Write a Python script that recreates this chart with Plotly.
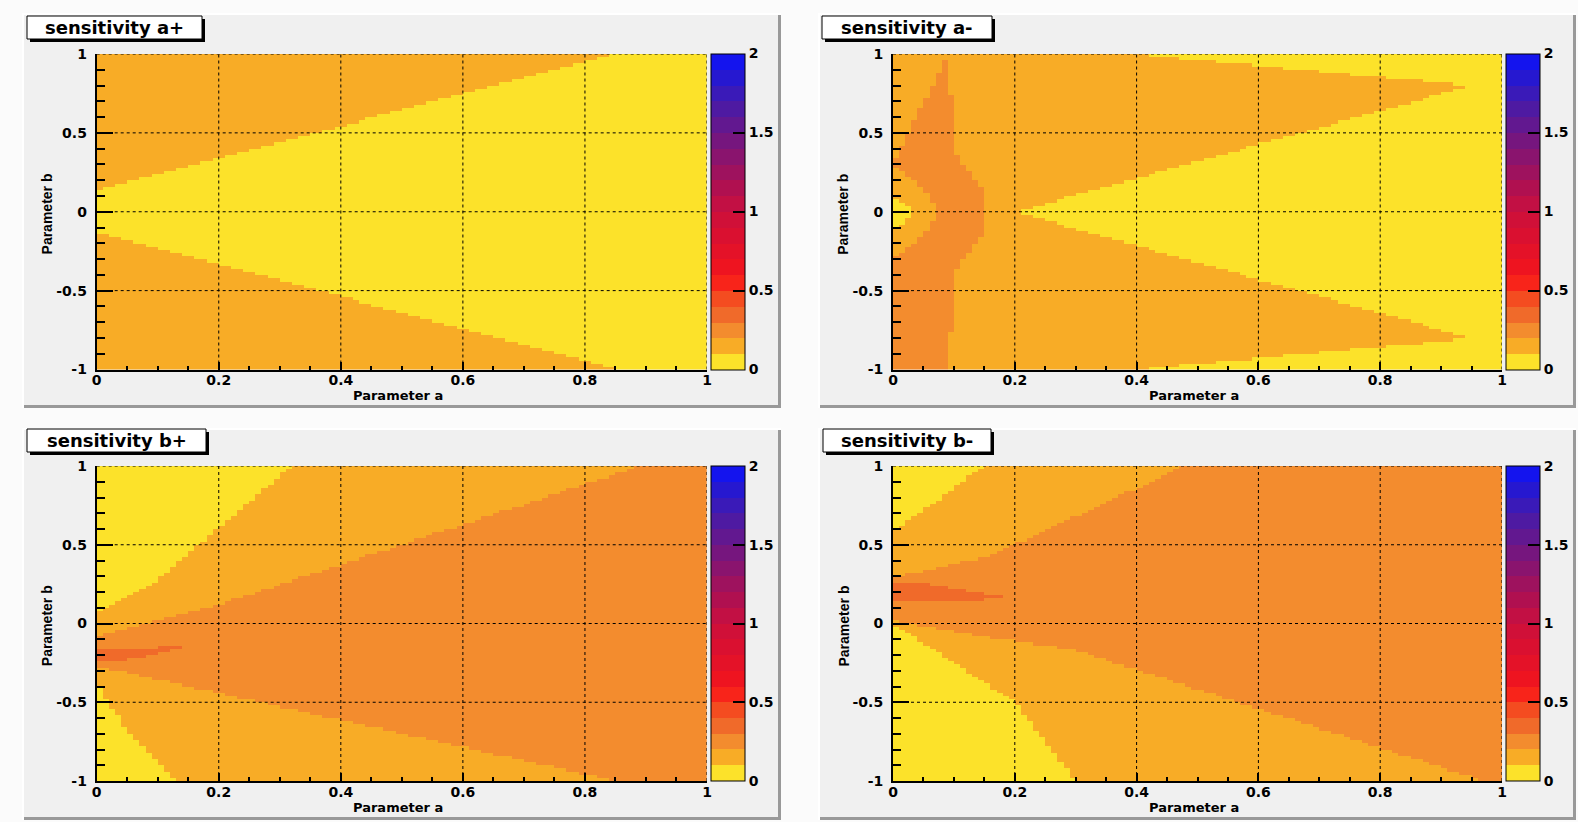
import numpy as np
import plotly.graph_objects as go

W, H = 1578, 822

# ---------------- data ----------------
# colour levels (ROOT-like palette, 20 steps from 0 to 2)
PALETTE = ["#FCE22A", "#F8AC26", "#F38C2E", "#F06A2A", "#F44C20", "#F8241A", "#EE1420",
           "#E41228", "#DA1030", "#D01038", "#C21044", "#B01050", "#9E125E", "#8A146E",
           "#76167E", "#621890", "#4E1AA2", "#3A1AB8", "#2618D0", "#1414EE"]
LEVEL_STEP = 0.1
NBINS_X, NBINS_Y = 100, 100
X_RANGE = [0.0, 1.0]
Y_RANGE = [-1.0, 1.0]

X_TICKS = [0, 0.2, 0.4, 0.6, 0.8, 1]
X_TICK_TEXT = ["0", "0.2", "0.4", "0.6", "0.8", "1"]
Y_TICKS = [-1, -0.5, 0, 0.5, 1]
Y_TICK_TEXT = ["-1", "-0.5", "0", "0.5", "1"]
Z_TICKS = [0, 0.5, 1, 1.5, 2]
Z_TICK_TEXT = ["0", "0.5", "1", "1.5", "2"]

TITLES = ["sensitivity a+", "sensitivity a-", "sensitivity b+", "sensitivity b-"]
X_TITLE = "Parameter a"
Y_TITLE = "Parameter b"

# region boundaries: (level index, polygon vertices (a, b))
A_PLUS_BASE = 0
A_PLUS_UPPER = [(0, 0.14), (0.85, 1), (0, 1)]
A_PLUS_LOWER = [(0, -0.13), (0.86, -1), (0, -1)]

A_MINUS_BASE = 1
A_MINUS_YELLOW = [(0.2, 0), (0.95, 0.8), (0.39, 1), (1, 1), (1, -1), (0.39, -1), (0.95, -0.8)]
A_MINUS_BAND = [(0.09, 1), (0.09, 0.75), (0.097, 0.75), (0.097, 0.4), (0.121, 0.27), (0.148, 0.14),
                (0.155, 0), (0.148, -0.14), (0.121, -0.27), (0.097, -0.4), (0.097, -0.75),
                (0.09, -0.75), (0.09, -1), (0, -1), (0, -0.3), (0.035, -0.2), (0.06, -0.1),
                (0.075, 0), (0.06, 0.1), (0.035, 0.2), (0, 0.3)]
A_MINUS_SPOT = [(0, 0.1), (0.035, 0.03), (0.035, -0.03), (0, -0.1)]

B_PLUS_BASE = 1
B_PLUS_YELLOW_TOP = [(0, 1), (0, 0.07), (0.1, 0.28), (0.32, 1)]
B_PLUS_YELLOW_BOT = [(0, -0.38), (0.02, -0.5), (0.05, -0.68), (0.13, -1), (0, -1)]
B_PLUS_DARK = [(0, -0.08), (0.2, 0.12), (0.5, 0.5), (0.89, 1), (1, 1), (1, -1), (0.85, -1), (0, -0.27)]
B_PLUS_RED = [(0, -0.15), (0.05, -0.16), (0.1, -0.15), (0.16, -0.13), (0.1, -0.19), (0.05, -0.23), (0, -0.25)]

B_MINUS_BASE = 1
B_MINUS_YELLOW_TOP = [(0, 1), (0, 0.58), (0.15, 1)]
B_MINUS_YELLOW_BOT = [(0, 0), (0.2, -0.5), (0.3, -1), (0, -1)]
B_MINUS_DARK = [(0, 0.29), (0.16, 0.43), (0.48, 1), (1, 1), (1, -1), (0.97, -1), (0.3, -0.17),
                (0.11, -0.06), (0, 0.02)]
B_MINUS_RED = [(0, 0.26), (0.06, 0.25), (0.12, 0.21), (0.19, 0.16), (0.12, 0.14), (0.06, 0.13), (0, 0.13)]

PANELS_DATA = [
    (A_PLUS_BASE, [(1, A_PLUS_UPPER), (1, A_PLUS_LOWER)]),
    (A_MINUS_BASE, [(0, A_MINUS_YELLOW), (2, A_MINUS_BAND), (0, A_MINUS_SPOT)]),
    (B_PLUS_BASE, [(0, B_PLUS_YELLOW_TOP), (0, B_PLUS_YELLOW_BOT), (2, B_PLUS_DARK), (3, B_PLUS_RED)]),
    (B_MINUS_BASE, [(0, B_MINUS_YELLOW_TOP), (0, B_MINUS_YELLOW_BOT), (2, B_MINUS_DARK), (3, B_MINUS_RED)]),
]

# ---------------- layout geometry (pixels) ----------------
PLOTS = [(96.7, 54, 707, 369.5), (893, 54, 1502, 369.5), (96.7, 466, 707, 781), (893, 466, 1502, 781)]
PADS = [(22, 13, 781, 408), (818, 13, 1576, 408), (22, 428, 781, 820), (818, 428, 1576, 820)]
BOXES = [(27, 16, 202, 39), (822, 16, 992, 39), (27, 429, 206, 452), (823, 429, 991, 452)]
CB_GAP, CB_W = 4, 34


def fx(px):
    return px / W


def fy(py):
    return 1 - py / H


def inside(px, py, poly):
    poly = np.asarray(poly, dtype=float)
    res = np.zeros(px.shape, dtype=bool)
    n = len(poly)
    j = n - 1
    with np.errstate(divide="ignore", invalid="ignore"):
        for i in range(n):
            xi, yi = poly[i]
            xj, yj = poly[j]
            cross = (yi > py) != (yj > py)
            xint = (xj - xi) * (py - yi) / (yj - yi) + xi
            res ^= cross & (px < xint)
            j = i
    return res


xc = X_RANGE[0] + (np.arange(NBINS_X) + 0.5) * (X_RANGE[1] - X_RANGE[0]) / NBINS_X
yc = Y_RANGE[0] + (np.arange(NBINS_Y) + 0.5) * (Y_RANGE[1] - Y_RANGE[0]) / NBINS_Y
XX, YY = np.meshgrid(xc, yc)

colorscale = []
n = len(PALETTE)
for i, c in enumerate(PALETTE):
    colorscale.append([i / n, c])
    colorscale.append([(i + 1) / n, c])

BOLD = dict(family="DejaVu Sans", weight="bold", color="black")

fig = go.Figure()
shapes = []
annotations = []
layout_axes = {}

for k in range(4):
    base, regions = PANELS_DATA[k]
    lev = np.full(XX.shape, base, dtype=float)
    for level, poly in regions:
        lev[inside(XX, YY, poly)] = level
    z = lev * LEVEL_STEP + LEVEL_STEP / 2

    x0, y0, x1, y1 = PLOTS[k]
    s = "" if k == 0 else str(k + 1)
    fig.add_trace(go.Heatmap(
        x=xc, y=yc, z=z, zmin=0, zmax=2, colorscale=colorscale,
        xaxis="x" + s, yaxis="y" + s, hoverinfo="skip",
        colorbar=dict(
            x=fx(x1 + CB_GAP), xanchor="left", y=fy(y1), yanchor="bottom",
            len=(y1 - y0) / H, lenmode="fraction", thickness=CB_W, thicknessmode="pixels",
            xpad=0, ypad=0, outlinewidth=1, outlinecolor="black",
            tickvals=Z_TICKS, ticktext=Z_TICK_TEXT, ticks="inside", ticklen=12,
            tickcolor="black", tickwidth=1.5, tickfont=dict(size=14, **BOLD),
        ),
    ))
    common = dict(showline=True, linecolor="black", linewidth=2, mirror=False,
                  showgrid=False, zeroline=False, ticks="inside", tickcolor="black", tickwidth=1.5,
                  tickfont=dict(size=14, **BOLD), fixedrange=True, automargin=False,
                  layer="above traces")
    layout_axes["xaxis" + s] = dict(
        domain=[fx(x0), fx(x1)], range=X_RANGE, anchor="y" + s,
        tickvals=X_TICKS, ticktext=X_TICK_TEXT, ticklen=8,
        minor=dict(dtick=0.05, tick0=0, ticks="inside", ticklen=4, tickcolor="black", showgrid=False),
        ticklabelstandoff=-3, **common)
    layout_axes["yaxis" + s] = dict(
        domain=[fy(y1), fy(y0)], range=Y_RANGE, anchor="x" + s,
        tickvals=Y_TICKS, ticktext=Y_TICK_TEXT, ticklen=16,
        minor=dict(dtick=0.1, tick0=0, ticks="inside", ticklen=8, tickcolor="black", showgrid=False),
        ticklabelstandoff=5, **common)

    # dotted grid drawn above the histogram (as in ROOT)
    for gx in X_TICKS[1:]:
        shapes.append(dict(type="line", xref="x" + s, yref="y" + s + " domain",
                           x0=gx, x1=gx, y0=0, y1=1, layer="above",
                           line=dict(color="black", width=1, dash="dot")))
    for gy in Y_TICKS[1:]:
        shapes.append(dict(type="line", xref="x" + s + " domain", yref="y" + s,
                           x0=0, x1=1, y0=gy, y1=gy, layer="above",
                           line=dict(color="black", width=1, dash="dot")))

    # pad background with bevel
    px0, py0, px1, py1 = PADS[k]
    shapes.append(dict(type="rect", xref="paper", yref="paper", layer="below",
                       x0=fx(px0), x1=fx(px1), y0=fy(py1), y1=fy(py0),
                       fillcolor="#F0F0F0", line=dict(width=0)))
    shapes.append(dict(type="line", xref="paper", yref="paper", layer="below",
                       x0=fx(px0), x1=fx(px1), y0=fy(py0 + 1), y1=fy(py0 + 1),
                       line=dict(color="#FFFFFF", width=2)))
    shapes.append(dict(type="line", xref="paper", yref="paper", layer="below",
                       x0=fx(px0 + 1), x1=fx(px0 + 1), y0=fy(py0), y1=fy(py1),
                       line=dict(color="#FFFFFF", width=2)))
    shapes.append(dict(type="line", xref="paper", yref="paper", layer="below",
                       x0=fx(px1 - 1.5), x1=fx(px1 - 1.5), y0=fy(py0 + 2), y1=fy(py1),
                       line=dict(color="#999999", width=3)))
    shapes.append(dict(type="line", xref="paper", yref="paper", layer="below",
                       x0=fx(px0 + 2), x1=fx(px1), y0=fy(py1 - 1.5), y1=fy(py1 - 1.5),
                       line=dict(color="#999999", width=3)))

    # title box with shadow
    bx0, by0, bx1, by1 = BOXES[k]
    shapes.append(dict(type="rect", xref="paper", yref="paper",
                       x0=fx(bx0 + 3), x1=fx(bx1 + 3), y0=fy(by1 + 3), y1=fy(by0 + 3),
                       fillcolor="black", line=dict(width=0)))
    shapes.append(dict(type="rect", xref="paper", yref="paper",
                       x0=fx(bx0), x1=fx(bx1), y0=fy(by1), y1=fy(by0),
                       fillcolor="white", line=dict(color="black", width=1)))
    annotations.append(dict(text=TITLES[k], xref="paper", yref="paper",
                            x=fx((bx0 + bx1) / 2), y=fy((by0 + by1) / 2),
                            xanchor="center", yanchor="middle", showarrow=False,
                            font=dict(size=18, **BOLD)))

    # axis titles
    annotations.append(dict(text=X_TITLE, xref="paper", yref="paper",
                            x=fx((x0 + x1) / 2 - 4), y=fy(y1 + 26),
                            xanchor="center", yanchor="middle", showarrow=False,
                            font=dict(size=13, **BOLD)))
    annotations.append(dict(text=Y_TITLE, xref="paper", yref="paper",
                            x=fx(x0 - 50), y=fy((y0 + y1) / 2 + 2), textangle=-90,
                            xanchor="center", yanchor="middle", showarrow=False,
                            font=dict(size=14, family="Liberation Sans", weight="bold", color="black")))

fig.update_layout(
    width=W, height=H, margin=dict(l=0, r=0, t=0, b=0, autoexpand=False),
    paper_bgcolor="#FBFBFB", plot_bgcolor="rgba(0,0,0,0)",
    shapes=shapes, annotations=annotations, showlegend=False,
    **layout_axes,
)

fig.write_html("out.html", config={"displayModeBar": False},
               post_script="document.body.style.margin='0px';document.body.style.overflow='hidden';")
